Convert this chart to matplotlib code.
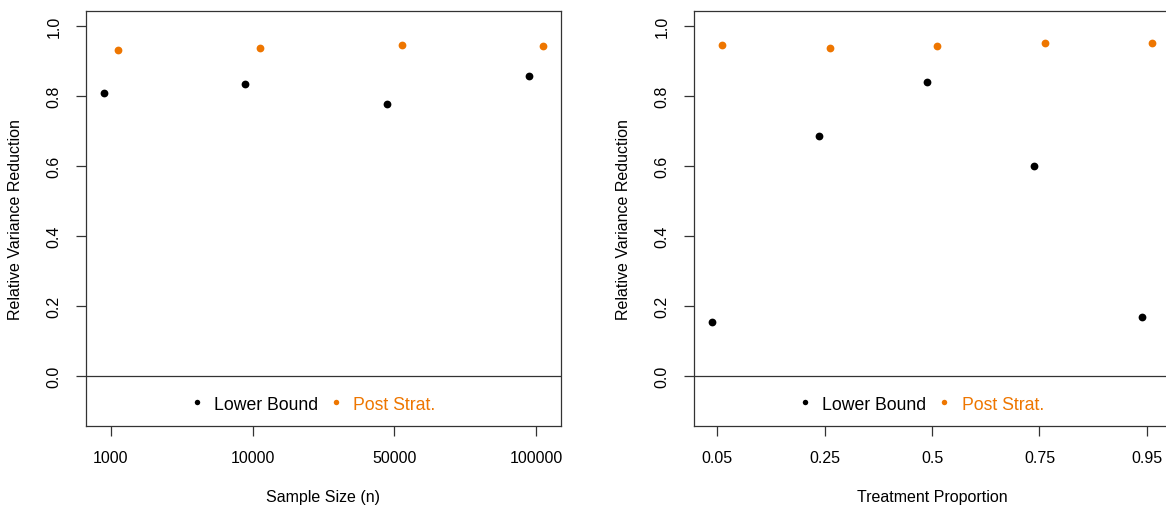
import matplotlib
matplotlib.use("Agg")
import matplotlib.pyplot as plt
import numpy as np

# Left panel: sample size
size_labels = ["1000", "10000", "50000", "100000"]
size_lower = [0.808, 0.834, 0.778, 0.859]
size_post = [0.933, 0.937, 0.946, 0.943]

# Right panel: treatment proportion
prop_labels = ["0.05", "0.25", "0.5", "0.75", "0.95"]
prop_lower = [0.154, 0.686, 0.840, 0.600, 0.167]
prop_post = [0.948, 0.938, 0.945, 0.951, 0.952]

ORANGE = "#EE7600"
plt.rcParams['font.family'] = ['Liberation Sans', 'DejaVu Sans']
plt.rcParams['font.size'] = 11.5


def drawPanel(ax, labels, lower, post, xlabel):
    """
    Draw one panel: lower bound vs post stratification, R base-graphics look.
    """
    n = len(labels)
    pos = np.arange(n)
    ax.axhline(0, color='#333333', lw=0.9, zorder=1)
    ax.plot(pos - 0.05, lower, 'o', color='black', ms=5.6, mec='none', label='Lower Bound', zorder=3)
    ax.plot(pos + 0.05, post, 'o', color=ORANGE, ms=5.6, mec='none', label='Post Strat.', zorder=3)

    # R style axis ranges: data range extended by 4%
    xr = (n - 1) + 0.1
    ax.set_xlim(-0.05 - 0.04 * xr, n - 1 + 0.05 + 0.04 * xr)
    ax.set_ylim(-0.1 - 0.044, 1.0 + 0.044)

    ax.set_xticks(pos)
    ax.set_xticklabels(labels)
    ax.set_yticks([0.0, 0.2, 0.4, 0.6, 0.8, 1.0])
    ax.set_yticklabels(["0.0", "0.2", "0.4", "0.6", "0.8", "1.0"], rotation=90, va='center')
    ax.tick_params(axis='x', length=7, width=0.9, pad=10.5, color='#333333')
    ax.tick_params(axis='y', length=7, width=0.9, pad=16, color='#333333')
    for lab in ax.get_yticklabels():
        lab.set_ha('center')
    for sp in ax.spines.values():
        sp.set_linewidth(0.9)
        sp.set_color('#333333')

    ax.set_xlabel(xlabel)
    ax.set_ylabel("Relative Variance Reduction")
    ax.xaxis.set_label_coords(0.5, -0.169)
    ax.xaxis.label.set_va('center')
    ax.yaxis.set_label_coords(-0.148, 0.5)
    ax.yaxis.label.set_va('center')

    leg = ax.legend(loc='center', bbox_to_anchor=(0.475, 0.053), ncol=2, frameon=False,
                    handlelength=1.0, handletextpad=0.47, columnspacing=0.52,
                    markerscale=0.7, fontsize=12.7, borderpad=0)
    for txt, col in zip(leg.get_texts(), ['black', ORANGE]):
        txt.set_color(col)


if __name__ == '__main__':
    fig = plt.figure(figsize=(11.66, 5.06), dpi=100)
    ax1 = fig.add_axes([86 / 1166, 79 / 506, 475 / 1166, 415 / 506])
    ax2 = fig.add_axes([694 / 1166, 79 / 506, 476 / 1166, 415 / 506])
    drawPanel(ax1, size_labels, size_lower, size_post, "Sample Size (n)")
    drawPanel(ax2, prop_labels, prop_lower, prop_post, "Treatment Proportion")
    fig.savefig("out.png", dpi=100)
